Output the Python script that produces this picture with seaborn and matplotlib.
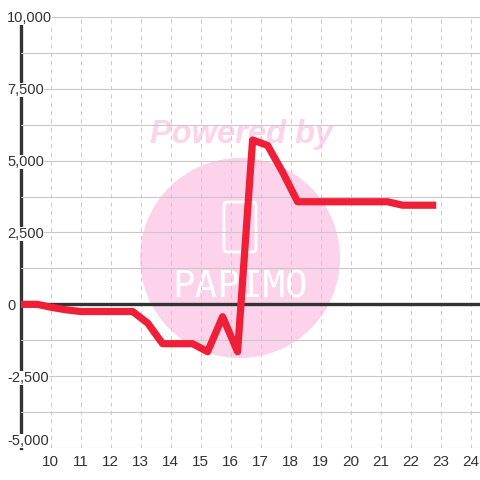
import numpy as np
import pandas as pd
import seaborn as sns
import matplotlib.pyplot as plt
from matplotlib.patches import Circle, FancyBboxPatch

# values
hours = [9.0, 9.55, 10.0, 10.5, 11.0, 12.73, 13.23, 13.73, 14.73, 15.23, 15.73,
         16.23, 16.73, 17.23, 17.73, 18.23, 21.23, 21.73, 22.73]
values = [0, 0, -100, -190, -250, -250, -650, -1370, -1370, -1650, -430,
          -1650, 5720, 5530, 4600, 3570, 3570, 3450, 3450]
x_ticks = list(range(10, 25))
y_ticks = list(range(-5000, 10001, 1250))
y_labels = [f"{v:,}" if v % 2500 == 0 else "" for v in y_ticks]

df = pd.DataFrame({"hour": hours, "value": values})

sns.set_style("white")
plt.rcParams['font.family'] = ['Liberation Sans', 'DejaVu Sans']

fig = plt.figure(figsize=(4.8, 4.8), dpi=100)
ax = fig.add_axes([21 / 480, 32 / 480, 459 / 480, 431 / 480])
ax.patch.set_visible(False)

# watermark
pink = "#fcd3ea"
fig.add_artist(Circle((240 / 480, 1 - 258 / 480), 100 / 480, transform=fig.transFigure,
                      facecolor=pink, edgecolor="none", zorder=-2))
fig.text(242 / 480, 1 - 134 / 480, "Powered by", color=pink, fontsize=23.5,
         fontweight="bold", fontstyle="italic", ha="center", va="center", zorder=-2)
fig.add_artist(FancyBboxPatch((224 / 480, 1 - 252 / 480), 32 / 480, 50 / 480,
                              boxstyle="round,pad=0,rounding_size=0.008",
                              transform=fig.transFigure, facecolor="none",
                              edgecolor="white", linewidth=2, zorder=-1))
fig.text(240 / 480, 1 - 288 / 480, "PAPIMO", color="white", fontsize=27,
         ha="center", va="center", family="DejaVu Sans Mono", zorder=-1)

sns.lineplot(data=df, x="hour", y="value", ax=ax, color="#ee1f36", linewidth=5.2,
             zorder=5, solid_capstyle="projecting")
ax.axhline(0, color="#333333", linewidth=2.4, zorder=4)

ax.set_xlim(9.01, 24.31)
ax.set_ylim(-5000, 10000)
ax.set_xticks(x_ticks)
ax.set_xticklabels([str(v) for v in x_ticks], fontsize=11, color="#333333")
ax.set_yticks(y_ticks)
ax.set_yticklabels(y_labels, fontsize=10.5, color="#333333", ha="left")
for lab in ax.get_yticklabels():
    lab.set_bbox(dict(facecolor="white", edgecolor="none", pad=0))
ax.get_yticklabels()[0].set_va("bottom")
ax.tick_params(axis="y", length=0, pad=10)
ax.tick_params(axis="x", length=0, pad=5)
ax.set_xlabel("")
ax.set_ylabel("")

ax.grid(axis="y", color="#c8c8c8", linewidth=0.8, linestyle="-")
ax.grid(axis="x", color="#cccccc", linewidth=0.75, linestyle=(0, (4, 4)))
ax.set_axisbelow(True)

for s in ["top", "right", "bottom"]:
    ax.spines[s].set_visible(False)
ax.spines["left"].set_color("#333333")
ax.spines["left"].set_linewidth(2.4)
ax.spines["left"].set_zorder(0.5)

fig.savefig("out.png", dpi=100)
